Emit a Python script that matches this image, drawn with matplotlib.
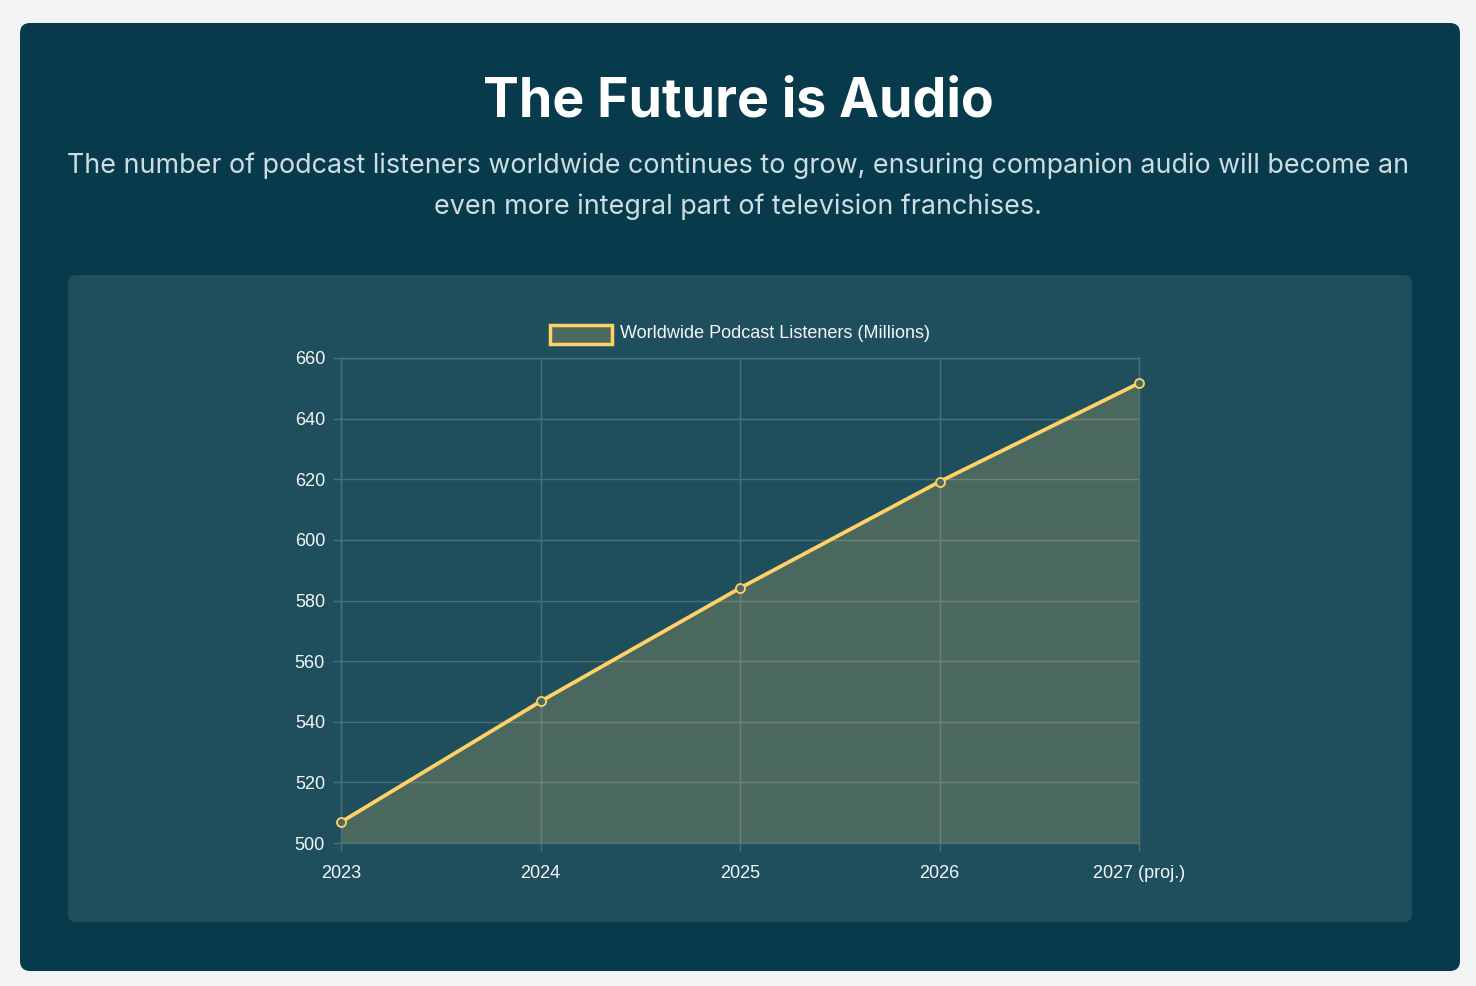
import matplotlib
matplotlib.use("Agg")
import matplotlib.pyplot as plt
from matplotlib.patches import FancyBboxPatch, Rectangle

# data
years = ["2023", "2024", "2025", "2026", "2027 (proj.)"]
listeners = [506.9, 546.7, 584.1, 619.2, 651.7]
series_label = "Worldwide Podcast Listeners (Millions)"
y_ticks = [500, 520, 540, 560, 580, 600, 620, 640, 660]

W, H = 1476, 986
BG = "#f3f4f6"
CARD = "#073b4c"
PANEL = "#1f4f5d"
LINE = "#ffd166"
FILL = "#4c695f"
GRID = "#4b7079"

fig = plt.figure(figsize=(W / 100, H / 100), dpi=100, facecolor=BG)


def px_box(x0, y0, x1, y1):
    # pixel coords (top-left origin) -> figure fraction
    return [x0 / W, 1 - y1 / H, (x1 - x0) / W, (y1 - y0) / H]


def rounded(x0, y0, x1, y1, r, color):
    # display coords at dpi 100
    p = FancyBboxPatch((x0, H - y1), x1 - x0, y1 - y0,
                       boxstyle=f"round,pad=0,rounding_size={r}",
                       transform=None, facecolor=color, edgecolor="none",
                       zorder=-10)
    fig.patches.append(p)


rounded(20, 23, 1460, 971, 10, CARD)
rounded(68, 275, 1412, 922, 8, PANEL)

fig.text(0.5, 1 - 102 / H, "The Future is Audio", ha="center", va="center",
         fontsize=38.6, fontweight="bold", color="white", family="Inter")
fig.text(0.5, 1 - 186 / H,
         "The number of podcast listeners worldwide continues to grow, ensuring companion audio will become an\n"
         "even more integral part of television franchises.",
         ha="center", va="center", fontsize=19.35, color="#cfdde2",
         family="Inter", linespacing=1.72)

ax = fig.add_axes(px_box(341, 358, 1139, 843))
ax.set_facecolor("none")
ax.set_zorder(5)
x = list(range(len(years)))
# translucent fill so the grid shows through
ax.fill_between(x, listeners, 500, color=LINE, alpha=0.2, lw=0, zorder=2)
ax.plot(x, listeners, color=LINE, lw=2.7, zorder=3, solid_capstyle="round")
ax.plot(x, listeners, "o", ms=6.5, mfc=FILL, mec=LINE, mew=1.3, zorder=4,
        clip_on=False)

ax.set_xlim(0, len(years) - 1)
ax.set_ylim(500, 660)
ax.set_yticks(y_ticks)
ax.set_xticks(x)
ax.set_xticklabels(years)
ax.grid(True, color=GRID, lw=1, zorder=0)
ax.set_axisbelow(True)
for s in ax.spines.values():
    s.set_color(GRID)
    s.set_linewidth(1)
ax.tick_params(colors=GRID, length=6, width=1)
ax.tick_params(axis="x", pad=10)
ax.tick_params(axis="y", pad=5.5)
for lab in ax.get_xticklabels() + ax.get_yticklabels():
    lab.set_color("#f5f7f8")
    lab.set_fontsize(13)
    lab.set_family("Liberation Sans")

# legend
lb = px_box(550, 325, 612, 344)
fig.patches.append(Rectangle((lb[0], lb[1]), lb[2], lb[3], transform=fig.transFigure,
                             facecolor=FILL, edgecolor=LINE, lw=2.5, zorder=-5))
fig.text(620 / W, 1 - 334 / H, series_label, ha="left", va="center",
         fontsize=13, color="#f5f7f8", family="Liberation Sans")

fig.savefig("out.png", dpi=100, facecolor=BG)
